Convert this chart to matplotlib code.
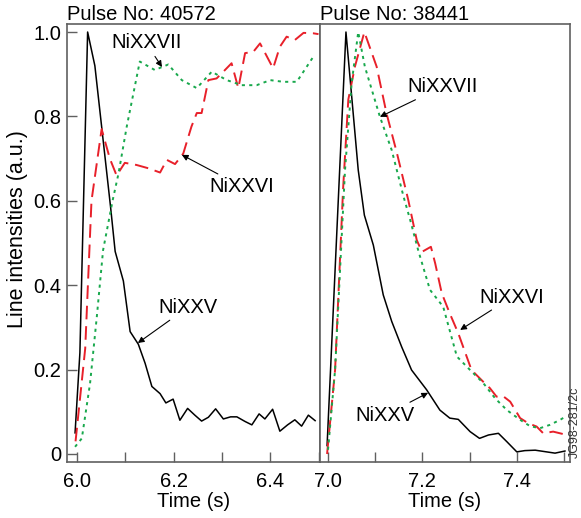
import matplotlib
matplotlib.use("Agg")
import matplotlib.pyplot as plt

plt.rcParams['font.family'] = ['Liberation Sans', 'DejaVu Sans']

# Pulse 40572 (left panel)
t_l_25 = [5.996, 6.006, 6.022, 6.037, 6.070, 6.079, 6.096, 6.110, 6.127, 6.141, 6.155, 6.172,
          6.184, 6.199, 6.213, 6.229, 6.244, 6.258, 6.272, 6.287, 6.303, 6.318, 6.331, 6.348,
          6.362, 6.377, 6.389, 6.405, 6.420, 6.436, 6.451, 6.465, 6.479, 6.493]
y_l_25 = [0.05, 0.24, 1.0, 0.92, 0.58, 0.48, 0.41, 0.29, 0.26, 0.215, 0.16, 0.143,
          0.121, 0.13, 0.08, 0.108, 0.092, 0.078, 0.087, 0.107, 0.083, 0.088, 0.088, 0.077,
          0.069, 0.095, 0.083, 0.106, 0.054, 0.069, 0.081, 0.066, 0.092, 0.079]

t_l_26 = [5.997, 6.017, 6.030, 6.051, 6.068, 6.082, 6.099, 6.123, 6.148, 6.172, 6.186, 6.203,
          6.220, 6.237, 6.248, 6.258, 6.272, 6.289, 6.303, 6.320, 6.334, 6.348, 6.365, 6.379,
          6.406, 6.420, 6.434, 6.451, 6.469, 6.489, 6.500]
y_l_26 = [0.03, 0.25, 0.60, 0.77, 0.70, 0.66, 0.69, 0.685, 0.677, 0.667, 0.697, 0.687,
          0.712, 0.776, 0.808, 0.808, 0.886, 0.890, 0.906, 0.926, 0.867, 0.950, 0.953, 0.973,
          0.914, 0.965, 0.989, 0.981, 0.998, 0.997, 0.995]

t_l_27 = [5.996, 6.010, 6.027, 6.041, 6.054, 6.074, 6.086, 6.103, 6.130, 6.161, 6.189, 6.217,
          6.248, 6.279, 6.310, 6.341, 6.372, 6.400, 6.427, 6.455, 6.489]
y_l_27 = [0.017, 0.037, 0.167, 0.325, 0.483, 0.602, 0.665, 0.776, 0.930, 0.910, 0.923, 0.886,
          0.867, 0.906, 0.886, 0.874, 0.874, 0.886, 0.882, 0.882, 0.941]

# Pulse 38441 (right panel)
t_r_25 = [6.998, 7.038, 7.064, 7.077, 7.096, 7.117, 7.135, 7.156, 7.177, 7.209, 7.237, 7.258,
          7.276, 7.301, 7.321, 7.340, 7.361, 7.379, 7.400, 7.417, 7.439, 7.463, 7.481, 7.502]
y_r_25 = [0.02, 1.0, 0.673, 0.566, 0.495, 0.377, 0.314, 0.254, 0.199, 0.152, 0.104, 0.085,
          0.082, 0.053, 0.037, 0.045, 0.049, 0.029, 0.005, 0.008, 0.009, 0.005, 0.002, 0.007]

t_r_26 = [6.998, 7.015, 7.032, 7.043, 7.057, 7.077, 7.103, 7.124, 7.146, 7.170, 7.188, 7.199,
          7.218, 7.227, 7.241, 7.258, 7.276, 7.304, 7.329, 7.343, 7.357, 7.371, 7.386, 7.407,
          7.424, 7.442, 7.456, 7.477, 7.499]
y_r_26 = [0.0, 0.2, 0.63, 0.84, 0.918, 1.0, 0.918, 0.807, 0.713, 0.602, 0.507, 0.479,
          0.491, 0.452, 0.381, 0.333, 0.286, 0.199, 0.171, 0.156, 0.136, 0.137, 0.124, 0.085,
          0.073, 0.065, 0.049, 0.053, 0.047]

t_r_27 = [7.0, 7.015, 7.029, 7.036, 7.050, 7.064, 7.078, 7.110, 7.135, 7.160, 7.174, 7.191,
          7.216, 7.244, 7.273, 7.301, 7.329, 7.354, 7.379, 7.407, 7.428, 7.449, 7.470, 7.492, 7.505]
y_r_27 = [0.01, 0.2, 0.515, 0.673, 0.878, 1.0, 0.918, 0.799, 0.720, 0.610, 0.555, 0.483,
          0.389, 0.349, 0.231, 0.199, 0.168, 0.132, 0.104, 0.081, 0.066, 0.061, 0.069, 0.081, 0.09]

y_ticks = [0, 0.2, 0.4, 0.6, 0.8, 1.0]
y_ticklabels = ['0', '0.2', '0.4', '0.6', '0.8', '1.0']

fs = 14.5
spine_col = '#606060'
red = '#e8202a'
green = '#18a84c'

fig = plt.figure(figsize=(5.81, 5.18), dpi=100)
ax1 = fig.add_axes([67 / 581, 56 / 518, 253 / 581, 438 / 518])
ax2 = fig.add_axes([320 / 581, 56 / 518, 250 / 581, 438 / 518])


def style(ax, xlim, majors, minors, title):
    ax.set_xlim(*xlim)
    ax.set_ylim(-0.019, 1.019)
    ax.set_xticks(majors)
    ax.set_xticklabels(['%.1f' % v for v in majors])
    ax.set_xticks(minors, minor=True)
    ax.tick_params(axis='x', which='both', direction='in', length=7, width=1,
                   color=spine_col, labelsize=fs, pad=7)
    for s in ax.spines.values():
        s.set_color(spine_col)
        s.set_linewidth(1.2)
    ax.set_xlabel('Time (s)', fontsize=fs, labelpad=1)
    ax.set_title(title, loc='left', fontsize=fs, pad=3)


def draw(ax, t25, y25, t26, y26, t27, y27):
    ax.plot(t25, y25, color='black', lw=1.1)
    ax.plot(t26, y26, color=red, lw=1.4, dashes=(7, 3.5))
    ax.plot(t27, y27, color=green, lw=1.4, dashes=(1.6, 2.2))


draw(ax1, t_l_25, y_l_25, t_l_26, y_l_26, t_l_27, y_l_27)
draw(ax2, t_r_25, y_r_25, t_r_26, y_r_26, t_r_27, y_r_27)

style(ax1, (5.9793, 6.5031), [6.0, 6.2, 6.4], [6.1, 6.3, 6.5], 'Pulse No: 40572')
style(ax2, (6.983, 7.5127), [7.0, 7.2, 7.4], [7.1, 7.3, 7.5], 'Pulse No: 38441')

ax1.set_yticks(y_ticks)
ax1.set_yticklabels(y_ticklabels)
ax1.tick_params(axis='y', direction='in', length=7, width=1, color=spine_col,
                labelsize=fs, pad=4)
ax1.set_ylabel('Line intensities (a.u.)', fontsize=15.5)
ax1.yaxis.set_label_coords(-0.154, 0.532)
ax2.set_yticks([])

arrow = dict(arrowstyle='-|>', color='black', lw=0.8, mutation_scale=9,
             shrinkA=1, shrinkB=0)
notes_left = [('NiXXVII', (6.176, 0.917), (6.143, 0.974)),
              ('NiXXVI', (6.217, 0.709), (6.342, 0.633)),
              ('NiXXV', (6.126, 0.263), (6.230, 0.348))]
notes_right = [('NiXXVII', (7.110, 0.799), (7.242, 0.870)),
               ('NiXXVI', (7.280, 0.294), (7.390, 0.372)),
               ('NiXXV', (7.212, 0.145), (7.121, 0.092))]
for ax, notes in ((ax1, notes_left), (ax2, notes_right)):
    for label, tip, pos in notes:
        ax.annotate(label, xy=tip, xytext=pos, ha='center', va='center',
                    fontsize=fs, arrowprops=arrow)

fig.text(0.999, 0.115, 'JG98-281/2c', rotation=90, fontsize=9, ha='right',
         va='bottom', color='#333333')

fig.savefig('out.png', dpi=100)
